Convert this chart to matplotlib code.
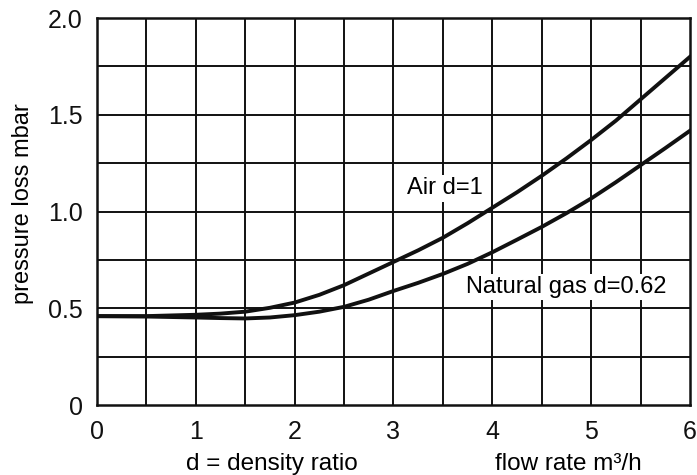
import matplotlib

matplotlib.use("Agg")
import matplotlib.pyplot as plt
import numpy as np

plt.rcParams["font.family"] = ["Liberation Sans", "DejaVu Sans"]

# values
flow = [0, 0.5, 1, 1.25, 1.5, 1.75, 2, 2.25, 2.5, 2.75, 3, 3.25, 3.5, 3.75,
        4, 4.25, 4.5, 4.75, 5, 5.25, 5.5, 5.75, 6]
air = [0.46, 0.46, 0.467, 0.473, 0.483, 0.503, 0.53, 0.57, 0.62, 0.68, 0.74,
       0.80, 0.865, 0.94, 1.02, 1.10, 1.185, 1.275, 1.37, 1.47, 1.58, 1.69,
       1.80]
natural_gas = [0.46, 0.458, 0.453, 0.45, 0.448, 0.453, 0.465, 0.483, 0.508,
               0.545, 0.59, 0.632, 0.678, 0.73, 0.79, 0.855, 0.921, 0.992,
               1.068, 1.152, 1.24, 1.328, 1.418]
x_ticks = [0, 1, 2, 3, 4, 5, 6]
y_ticks = [0, 0.5, 1.0, 1.5, 2.0]
y_ticklabels = ["0", "0.5", "1.0", "1.5", "2.0"]

fig = plt.figure(figsize=(6.97, 4.75), dpi=100)
ax = fig.add_axes([0.139, 0.147, 0.851, 0.815])

# grid: every 0.5 on x, every 0.25 on y
for gx in np.arange(0.5, 6, 0.5):
    ax.axvline(gx, color="#111111", lw=1.4, zorder=1)
for gy in np.arange(0.25, 2, 0.25):
    ax.axhline(gy, color="#111111", lw=1.4, zorder=1)

ax.plot(flow, air, color="#111111", lw=2.8, zorder=3)
ax.plot(flow, natural_gas, color="#111111", lw=2.8, zorder=3)

txt_kw = dict(fontsize=17, ha="center", va="center", zorder=4,
              bbox=dict(facecolor="white", edgecolor="none", pad=1.5))
ax.text(3.52, 1.12, "Air d=1", **txt_kw)
ax.text(4.75, 0.61, "Natural gas d=0.62", **txt_kw)

ax.set_xlim(0, 6)
ax.set_ylim(0, 2.0)
ax.set_xticks(x_ticks)
ax.set_xticklabels([str(t) for t in x_ticks])
ax.set_yticks(y_ticks)
ax.set_yticklabels(y_ticklabels)
ax.tick_params(length=0, labelsize=18, colors="#111111")
ax.tick_params(axis="x", pad=11)
ax.tick_params(axis="y", pad=10)
for s in ax.spines.values():
    s.set_linewidth(1.8)
    s.set_color("#111111")

# axis titles placed as in the original drawing
fig.text(23 / 697, 1 - 204 / 475, "pressure loss mbar", fontsize=17,
         rotation=90, ha="center", va="center")
fig.text(272 / 697, 1 - 464 / 475, "d = density ratio", fontsize=17.5,
         ha="center", va="center")
fig.text(568 / 697, 1 - 464 / 475, "flow rate m³/h", fontsize=17.5,
         ha="center", va="center")

fig.savefig("out.png", dpi=100)
